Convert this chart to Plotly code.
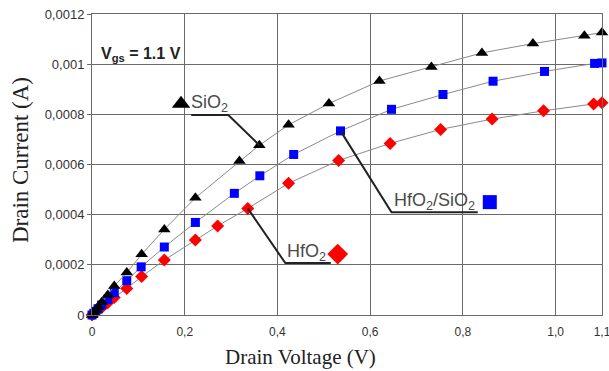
import plotly.graph_objects as go

# ---- data ----
sio2_x = [0, 0.004, 0.008, 0.013, 0.021, 0.034, 0.048, 0.075, 0.107, 0.156, 0.223, 0.318, 0.361,
          0.424, 0.511, 0.620, 0.732, 0.841, 0.951, 1.062, 1.100]
sio2_y = [0, 0.000009, 0.00002, 0.000032, 0.0000506, 0.00008, 0.000116, 0.000169, 0.000242, 0.000341,
          0.000467, 0.000614, 0.000677, 0.000758, 0.000843, 0.000933, 0.000989, 0.001045, 0.001082,
          0.001113, 0.001126]

hs_x = [0, 0.004, 0.008, 0.013, 0.021, 0.034, 0.048, 0.075, 0.106, 0.156, 0.223, 0.307, 0.362,
        0.435, 0.536, 0.646, 0.757, 0.865, 0.976, 1.084, 1.100]
hs_y = [0, 0.000007, 0.000015, 0.000025, 0.00004, 0.000062, 0.0000889, 0.000137, 0.000192, 0.000271,
        0.000369, 0.000485, 0.000555, 0.000640, 0.000734, 0.000820, 0.000879, 0.000932, 0.000971,
        0.001003, 0.001005]

hf_x = [0, 0.004, 0.008, 0.013, 0.021, 0.034, 0.048, 0.075, 0.107, 0.156, 0.223, 0.271, 0.336,
        0.424, 0.532, 0.643, 0.752, 0.863, 0.974, 1.082, 1.100]
hf_y = [0, 0.000006, 0.000012, 0.00002, 0.00003, 0.000049, 0.00007, 0.000106, 0.000153, 0.000219,
        0.000299, 0.000355, 0.000425, 0.000525, 0.000616, 0.000684, 0.000740, 0.000781, 0.000814,
        0.000841, 0.000846]

x_tickvals = [0, 0.2, 0.4, 0.6, 0.8, 1.0, 1.1]
x_ticktext = ["0", "0,2", "0,4", "0,6", "0,8", "1,0", "1,1"]
y_tickvals = [0, 0.0002, 0.0004, 0.0006, 0.0008, 0.001, 0.0012]
y_ticktext = ["0", "0,0002", "0,0004", "0,0006", "0,0008", "0,001", "0,0012"]

# label anchors (data coords)
sio2_label = dict(marker=(0.192, 0.000842), text=(0.210, 0.000843), line=[(0.214, 0.000797), (0.294, 0.000797)], target=(0.361, 0.000677))
hf_label = dict(marker=(0.530, 0.000243), text=(0.416, 0.000250), line=[(0.417, 0.000207), (0.515, 0.000207)], target=(0.336, 0.000425))
hs_label = dict(marker=(0.858, 0.000450), text=(0.646, 0.000451), line=[(0.646, 0.000410), (0.832, 0.000410)], target=(0.536, 0.000734))

fig = go.Figure()

line_style = dict(color="#8a8a8a", width=1)
fig.add_trace(go.Scatter(x=hf_x, y=hf_y, mode="lines+markers", line=line_style,
                         marker=dict(symbol="diamond", size=10, color="#ff0000"), cliponaxis=False))
fig.add_trace(go.Scatter(x=hs_x, y=hs_y, mode="lines+markers", line=line_style,
                         marker=dict(symbol="square", size=9, color="#0000ff"), cliponaxis=False))
fig.add_trace(go.Scatter(x=sio2_x, y=sio2_y, mode="lines+markers", line=line_style,
                         marker=dict(symbol="triangle-up", size=11, color="black"), cliponaxis=False))

# big label markers
fig.add_trace(go.Scatter(x=[sio2_label["marker"][0]], y=[sio2_label["marker"][1]], mode="markers",
                         marker=dict(symbol="triangle-up", size=16, color="black")))
fig.add_trace(go.Scatter(x=[hf_label["marker"][0]], y=[hf_label["marker"][1]], mode="markers",
                         marker=dict(symbol="diamond", size=16, color="#ff0000")))
fig.add_trace(go.Scatter(x=[hs_label["marker"][0]], y=[hs_label["marker"][1]], mode="markers",
                         marker=dict(symbol="square", size=14, color="#0000ff")))

shapes = []
for lab in (sio2_label, hf_label, hs_label):
    (x0, y0), (x1, y1) = lab["line"]
    tx, ty = lab["target"]
    if lab is sio2_label:
        path = f"M {x0},{y0} L {x1},{y1} L {tx},{ty}"
    else:
        path = f"M {tx},{ty} L {x0},{y0} L {x1},{y1}"
    shapes.append(dict(type="path", path=path, xref="x", yref="y",
                       line=dict(color="#222222", width=2)))

ann_font = dict(family="Liberation Sans, Arial, sans-serif", size=18, color="#4a4a4a")
annotations = [
    dict(x=sio2_label["text"][0], y=sio2_label["text"][1], text="SiO<sub>2</sub>", showarrow=False,
         xanchor="left", yanchor="middle", font=ann_font),
    dict(x=hf_label["text"][0], y=hf_label["text"][1], text="HfO<sub>2</sub>", showarrow=False,
         xanchor="left", yanchor="middle", font=ann_font),
    dict(x=hs_label["text"][0], y=hs_label["text"][1], text="HfO<sub>2</sub>/SiO<sub>2</sub>", showarrow=False,
         xanchor="left", yanchor="middle", font=ann_font),
    dict(x=0.015, y=0.00104, text="<b>V<sub>gs</sub> = 1.1 V</b>", showarrow=False,
         xanchor="left", yanchor="middle",
         font=dict(family="Liberation Sans, Arial, sans-serif", size=16, color="#222222")),
    dict(x=0.408, y=-0.138, xref="paper", yref="paper", text="Drain Voltage (V)", showarrow=False,
         xanchor="center", yanchor="middle",
         font=dict(family="Liberation Serif, Times New Roman, serif", size=21, color="#222222")),
    dict(x=-0.139, y=0.515, xref="paper", yref="paper", text="Drain Current (A)", showarrow=False,
         textangle=-90, xanchor="center", yanchor="middle",
         font=dict(family="Liberation Serif, Times New Roman, serif", size=23, color="#222222")),
]

grid_color = "#6a6a6a"
fig.update_layout(
    width=609, height=371,
    margin=dict(l=92, r=7, t=14, b=56, autoexpand=False),
    paper_bgcolor="white", plot_bgcolor="white",
    showlegend=False,
    shapes=shapes,
    annotations=annotations,
    xaxis=dict(range=[0, 1.1], tickvals=x_tickvals, ticktext=x_ticktext, automargin=False,
               ticklabeloverflow="allow",
               showgrid=True, gridcolor=grid_color, gridwidth=1,
               showline=True, linecolor=grid_color, linewidth=1, mirror=True,
               zeroline=False, ticks="", ticklabelstandoff=6,
               tickfont=dict(family="Liberation Sans, Arial, sans-serif", size=12, color="#333333")),
    yaxis=dict(range=[0, 0.0012], tickvals=y_tickvals, ticktext=y_ticktext, automargin=False,
               ticklabeloverflow="allow",
               showgrid=True, gridcolor=grid_color, gridwidth=1,
               showline=True, linecolor=grid_color, linewidth=1, mirror=True,
               zeroline=False, ticks="outside", ticklen=4, tickcolor=grid_color,
               tickfont=dict(family="Liberation Sans, Arial, sans-serif", size=13, color="#333333")),
)

fig.write_html("out.html", config={"displayModeBar": False},
               post_script="document.body.style.margin='0';document.body.style.overflow='hidden';")
